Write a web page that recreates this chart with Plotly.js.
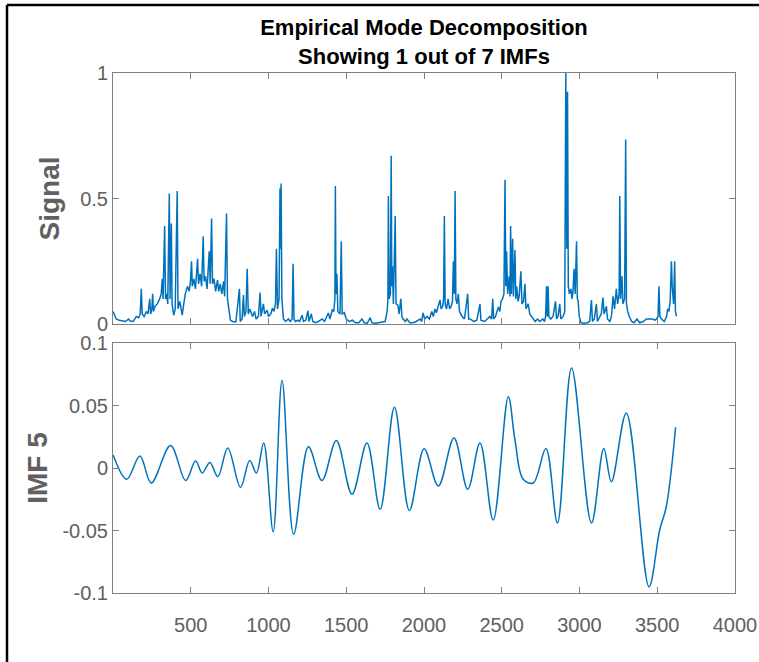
<!DOCTYPE html>
<html>
<head>
<meta charset="utf-8">
<script src="https://cdn.plot.ly/plotly-3.0.1.min.js"></script>
<style>html,body{margin:0;padding:0;background:#fff;}#chart{width:759px;height:662px;}</style>
</head>
<body>
<div id="chart"></div>
<script>
// ---- Data ----
const signalIdx = [1,10,20,40,60,80,100,110,130,150,165,175,182,188,200,215,225,236,242,250,255,260,270,285,300,310,317,322,332,338,345,352,362,367,375,380,390,400,413,418,430,445,455,465,479,490,498,505,510,520,530,544,550,560,570,580,586,595,605,619,625,634,640,650,660,672,680,690,700,711,718,730,736,745,755,768,790,813,818,830,839,845,855,863,870,880,897,910,920,935,946,952,967,975,991,1000,1015,1025,1035,1045,1051,1058,1068,1074,1078,1081,1086,1096,1110,1128,1140,1152,1158,1164,1173,1190,1200,1216,1225,1240,1254,1260,1275,1285,1300,1320,1346,1360,1385,1395,1410,1420,1427,1430,1434,1440,1446,1460,1468,1474,1488,1500,1520,1540,1558,1580,1601,1615,1635,1654,1665,1690,1720,1750,1763,1768,1771,1776,1784,1789,1793,1797,1803,1815,1820,1832,1840,1851,1858,1866,1880,1890,1910,1930,1950,1975,1985,1994,2005,2020,2035,2050,2060,2071,2080,2090,2103,2110,2120,2126,2131,2136,2145,2155,2165,2175,2183,2189,2195,2200,2205,2212,2221,2228,2245,2260,2281,2287,2296,2320,2340,2360,2366,2390,2410,2424,2435,2442,2448,2460,2478,2488,2495,2505,2514,2521,2526,2531,2538,2548,2553,2557,2562,2570,2575,2585,2590,2596,2605,2612,2623,2630,2640,2649,2656,2670,2680,2700,2715,2730,2745,2764,2775,2782,2788,2793,2798,2803,2815,2830,2846,2852,2862,2873,2880,2895,2905,2912,2918,2923,2928,2935,2945,2952,2958,2965,2972,2981,2986,2991,2998,3010,3030,3053,3065,3077,3083,3095,3109,3115,3130,3140,3151,3158,3173,3180,3195,3205,3216,3225,3237,3245,3255,3259,3264,3273,3279,3290,3297,3302,3310,3320,3336,3350,3370,3387,3410,3430,3451,3470,3485,3496,3505,3511,3517,3528,3545,3560,3567,3575,3583,3588,3591,3596,3605,3612,3617,3623];
const signalVals = [0.05,0.035,0.02,0.015,0.012,0.01,0.02,0.012,0.01,0.03,0.025,0.04,0.14,0.04,0.03,0.05,0.04,0.10,0.04,0.06,0.12,0.05,0.07,0.08,0.10,0.12,0.18,0.10,0.39,0.10,0.12,0.08,0.52,0.10,0.40,0.08,0.035,0.06,0.53,0.06,0.09,0.035,0.08,0.12,0.15,0.13,0.17,0.25,0.15,0.18,0.14,0.26,0.16,0.20,0.15,0.35,0.17,0.19,0.14,0.29,0.16,0.42,0.16,0.18,0.13,0.175,0.13,0.16,0.12,0.17,0.11,0.44,0.10,0.06,0.016,0.01,0.008,0.14,0.01,0.02,0.115,0.03,0.05,0.22,0.04,0.06,0.03,0.05,0.02,0.03,0.125,0.03,0.08,0.04,0.055,0.03,0.04,0.063,0.05,0.08,0.30,0.06,0.10,0.54,0.30,0.56,0.10,0.02,0.01,0.02,0.01,0.02,0.24,0.02,0.01,0.015,0.01,0.035,0.01,0.015,0.053,0.01,0.04,0.01,0.005,0.01,0.02,0.01,0.044,0.02,0.056,0.05,0.10,0.55,0.12,0.20,0.05,0.04,0.33,0.04,0.045,0.02,0.01,0.015,0.005,0.005,0.02,0.005,0.003,0.025,0.005,0.003,0.005,0.01,0.05,0.10,0.51,0.10,0.12,0.67,0.15,0.23,0.08,0.43,0.08,0.075,0.04,0.10,0.03,0.02,0.01,0.02,0.005,0.005,0.01,0.02,0.01,0.044,0.02,0.03,0.02,0.05,0.03,0.06,0.045,0.07,0.096,0.06,0.07,0.10,0.43,0.08,0.06,0.10,0.06,0.07,0.09,0.25,0.12,0.53,0.10,0.08,0.12,0.05,0.03,0.02,0.12,0.02,0.02,0.01,0.015,0.08,0.015,0.01,0.02,0.03,0.02,0.10,0.02,0.03,0.068,0.05,0.09,0.10,0.12,0.575,0.15,0.29,0.12,0.19,0.11,0.39,0.12,0.34,0.11,0.295,0.10,0.15,0.09,0.11,0.21,0.08,0.09,0.16,0.06,0.08,0.04,0.02,0.01,0.02,0.01,0.02,0.01,0.03,0.15,0.03,0.15,0.03,0.02,0.03,0.09,0.02,0.03,0.08,0.02,0.03,0.05,1.0,0.30,0.925,0.15,0.12,0.14,0.10,0.13,0.22,0.12,0.33,0.10,0.095,0.03,0.005,0.003,0.005,0.01,0.095,0.01,0.02,0.08,0.01,0.03,0.04,0.105,0.04,0.07,0.02,0.01,0.03,0.11,0.06,0.14,0.08,0.12,0.51,0.10,0.19,0.08,0.10,0.735,0.08,0.05,0.03,0.01,0.005,0.02,0.005,0.01,0.02,0.02,0.02,0.015,0.02,0.03,0.15,0.03,0.02,0.01,0.03,0.06,0.05,0.09,0.25,0.25,0.15,0.08,0.25,0.05,0.03];

const imfIdx  = [1,88,173,246,370,467,531,574,623,674,738,820,879,922,969,1030,1087,1162,1257,1344,1436,1537,1633,1718,1810,1906,2001,2092,2193,2281,2360,2445,2542,2585,2638,2702,2784,2858,2949,3077,3156,3205,3301,3447,3515,3558,3618];
const imfVals = [0.0104,-0.009,0.0096,-0.012,0.018,-0.010,0.0056,-0.004,0.0045,-0.007,0.016,-0.0155,0.006,-0.004,0.020,-0.051,0.070,-0.053,0.017,-0.010,0.022,-0.021,0.020,-0.033,0.0486,-0.034,0.0155,-0.0144,0.024,-0.017,0.020,-0.0416,0.057,0.0224,-0.009,-0.012,0.0157,-0.044,0.080,-0.044,0.0157,-0.011,0.044,-0.095,-0.05,-0.031,0.0326];

const xTickVals = [500,1000,1500,2000,2500,3000,3500,4000];
const topTickVals = [0,0.5,1];
const topTickText = ['0','0.5','1'];
const botTickVals = [-0.1,-0.05,0,0.05,0.1];
const botTickText = ['-0.1','-0.05','0','0.05','0.1'];

const W = 759, H = 662;
const lineColor = '#0072BD';
const axisGray = '#808080';
const textGray = '#606060';
const FONT = 'Liberation Sans, Arial, Helvetica, sans-serif';

const traces = [
  {x: signalIdx, y: signalVals, type: 'scatter', mode: 'lines',
   line: {color: lineColor, width: 1.5}, xaxis: 'x', yaxis: 'y', hoverinfo: 'skip'},
  {x: imfIdx, y: imfVals, type: 'scatter', mode: 'lines',
   line: {color: lineColor, width: 1.5, shape: 'spline', smoothing: 1}, xaxis: 'x2', yaxis: 'y2', hoverinfo: 'skip'}
];

const xl = 113/W, xr = 735/W;
const commonX = {
  range: [0, 4000], tickvals: xTickVals, ticks: 'inside', ticklen: 6, tickcolor: axisGray,
  showline: true, linecolor: axisGray, linewidth: 1, mirror: 'ticks', showgrid: false, zeroline: false,
  domain: [xl, xr], tickfont: {family: FONT, size: 20, color: textGray}
};
const layout = {
  width: W, height: H,
  margin: {l: 0, r: 0, t: 0, b: 0},
  paper_bgcolor: '#ffffff', plot_bgcolor: '#ffffff',
  showlegend: false,
  title: {text: '<b>Empirical Mode Decomposition</b><br><b>Showing 1 out of 7 IMFs</b>',
          x: ((113+735)/2)/W, xanchor: 'center', xref: 'paper',
          y: 1 - 35/H, yanchor: 'top', yref: 'container',
          font: {family: FONT, size: 22, color: '#000000'}},
  xaxis: Object.assign({}, commonX, {anchor: 'y', showticklabels: false}),
  yaxis: {
    domain: [1 - 324/H, 1 - 73/H], range: [0, 1], tickvals: topTickVals, ticktext: topTickText,
    ticks: 'inside', ticklen: 6, tickcolor: axisGray, showline: true, linecolor: axisGray, mirror: 'ticks',
    showgrid: false, zeroline: false, anchor: 'x',
    tickfont: {family: FONT, size: 20, color: textGray},
    title: {text: '<b>Signal</b>', standoff: 12, font: {family: FONT, size: 28, color: textGray}}
  },
  xaxis2: Object.assign({}, commonX, {anchor: 'y2', ticklabelstandoff: 14}),
  yaxis2: {
    domain: [1 - 593/H, 1 - 343/H], range: [-0.1, 0.1], tickvals: botTickVals, ticktext: botTickText,
    ticks: 'inside', ticklen: 6, tickcolor: axisGray, showline: true, linecolor: axisGray, mirror: 'ticks',
    showgrid: false, zeroline: false, anchor: 'x2',
    tickfont: {family: FONT, size: 20, color: textGray},
    title: {text: '<b>IMF 5</b>', standoff: 6, font: {family: FONT, size: 28, color: textGray}}
  },
  shapes: [
    {type: 'line', xref: 'paper', yref: 'paper', x0: 7/W, x1: 7/W, y0: 0, y1: 1 - 5/H, line: {color: '#000', width: 2.5}},
    {type: 'line', xref: 'paper', yref: 'paper', x0: 7/W, x1: 1, y0: 1 - 5/H, y1: 1 - 5/H, line: {color: '#000', width: 2.5}}
  ]
};
Plotly.newPlot('chart', traces, layout, {staticPlot: true, displayModeBar: false});
</script>
</body>
</html>
